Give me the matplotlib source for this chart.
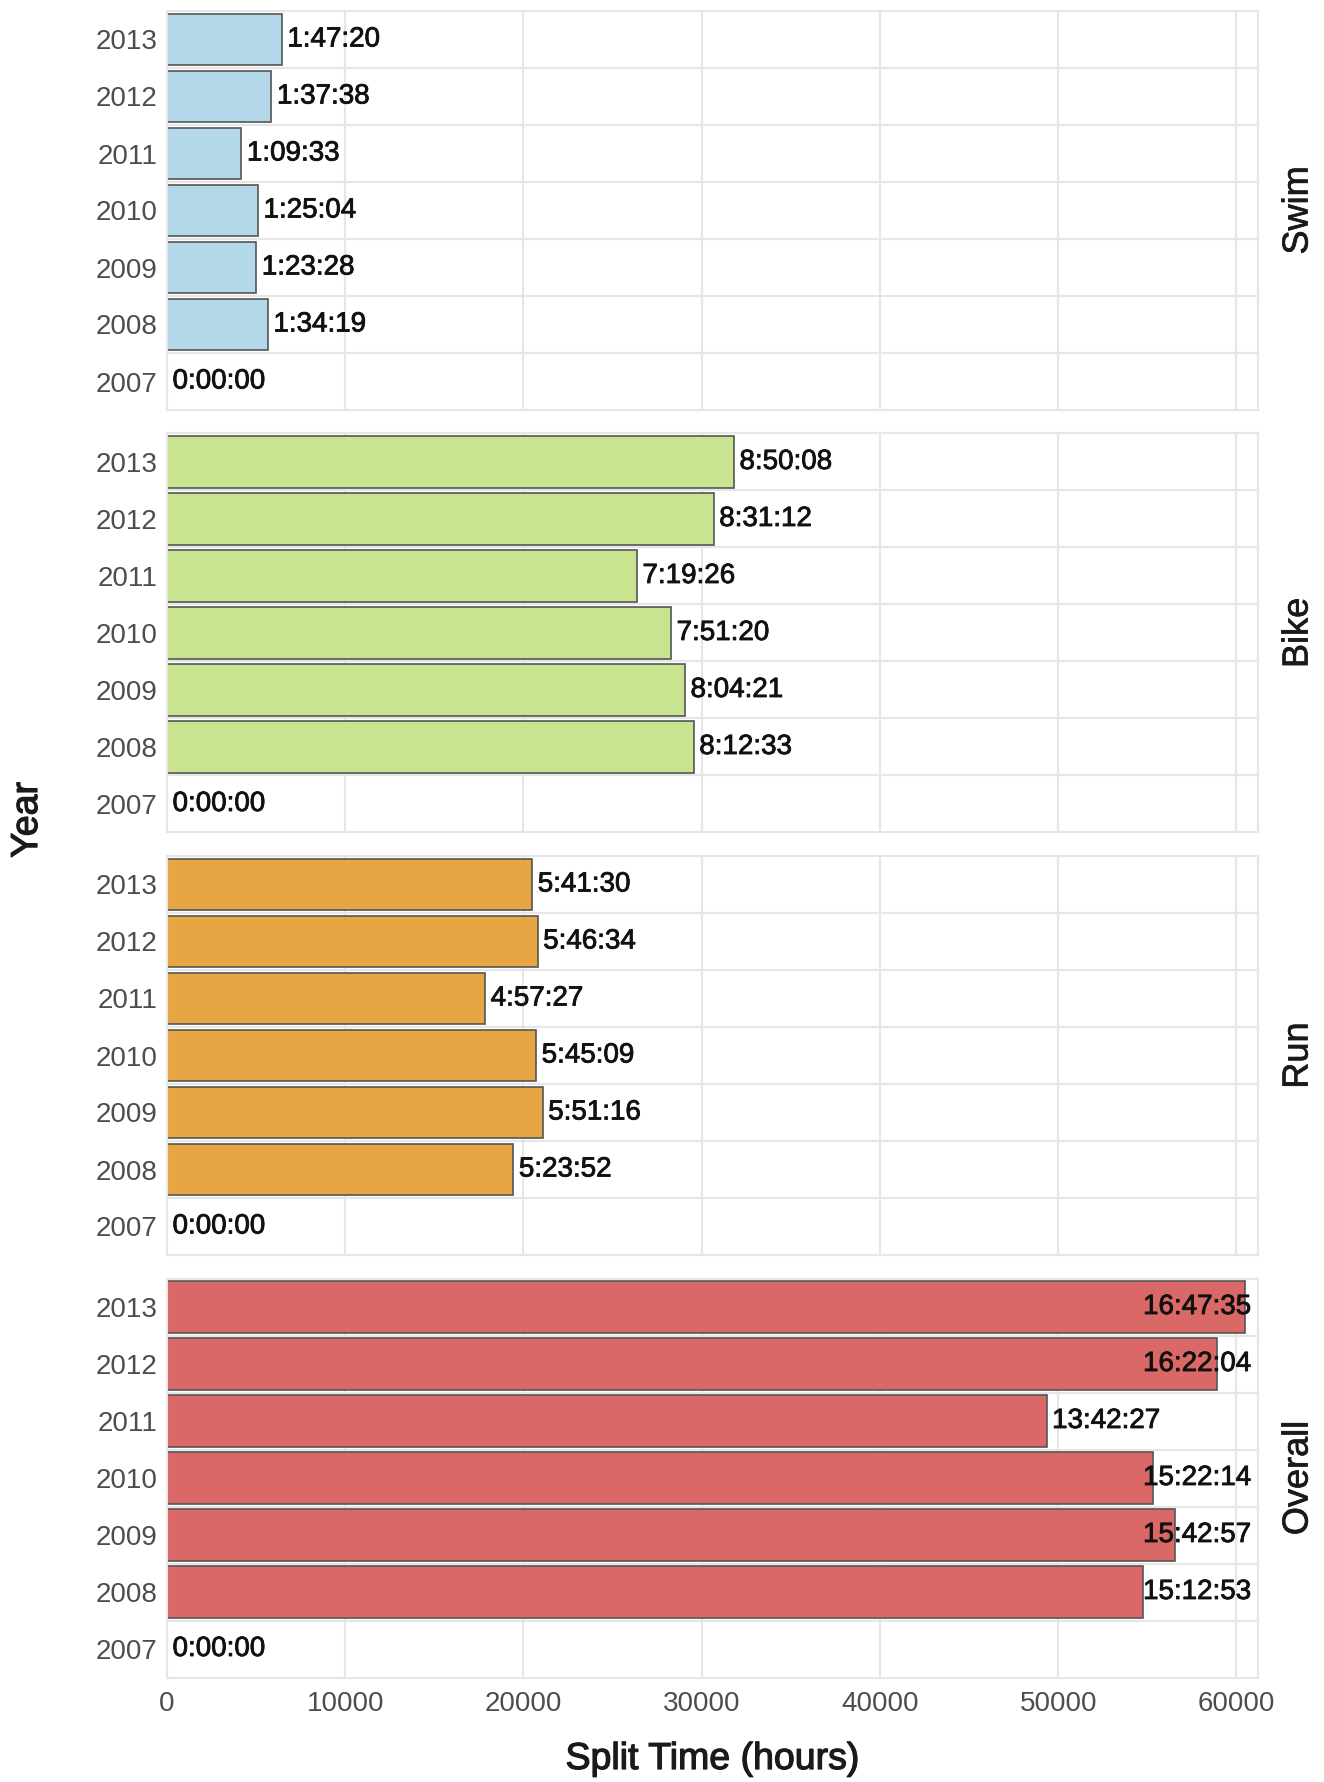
import matplotlib
matplotlib.use("Agg")
import matplotlib.pyplot as plt
import matplotlib.patheffects as pe
import numpy as np

plt.rcParams['font.family'] = ['Liberation Sans', 'DejaVu Sans']

years = ["2007", "2008", "2009", "2010", "2011", "2012", "2013"]
facets = ["Swim", "Bike", "Run", "Overall"]
swim = ["0:00:00", "1:34:19", "1:23:28", "1:25:04", "1:09:33", "1:37:38", "1:47:20"]
bike = ["0:00:00", "8:12:33", "8:04:21", "7:51:20", "7:19:26", "8:31:12", "8:50:08"]
run = ["0:00:00", "5:23:52", "5:51:16", "5:45:09", "4:57:27", "5:46:34", "5:41:30"]
overall = ["0:00:00", "15:12:53", "15:42:57", "15:22:14", "13:42:27", "16:22:04", "16:47:35"]
colors = ["#b3d8ea", "#c9e490", "#e8a543", "#d96866"]
xticks = [0, 10000, 20000, 30000, 40000, 50000, 60000]

series = [swim, bike, run, overall]


def to_sec(s):
    h, m, sec = s.split(":")
    return int(h) * 3600 + int(m) * 60 + int(sec)


W, H = 1324, 1782
fig = plt.figure(figsize=(W / 100, H / 100), dpi=100)

left = 167 / W
right = 1258 / W
top0 = 11
ph = 399
gap = 23.5
label_cap = 54450
grid_c = "#e6e6e6"
val_fx = [pe.withStroke(linewidth=0.6, foreground="#111111")]
title_fx = [pe.withStroke(linewidth=0.9, foreground="#1a1a1a")]

ypos = np.arange(len(years))
for i, (name, vals, col) in enumerate(zip(facets, series, colors)):
    top = top0 + i * (ph + gap)
    ax = fig.add_axes([left, 1 - (top + ph) / H, right - left, ph / H])
    secs = [to_sec(v) for v in vals]
    ax.set_xlim(0, 61212)
    ax.set_ylim(-0.5, len(years) - 0.5)
    ax.set_axisbelow(True)
    ax.set_xticks(xticks)
    ax.set_yticks(ypos)
    ax.set_yticks(ypos[:-1] + 0.5, minor=True)
    ax.set_yticklabels(years)
    ax.grid(True, axis="x", which="major", color=grid_c, lw=1.5)
    ax.grid(True, axis="y", which="minor", color=grid_c, lw=1.5)
    ax.tick_params(axis="both", which="both", length=0)
    ax.tick_params(axis="y", labelsize=20, labelcolor="#4d4d4d", pad=7)
    ax.tick_params(axis="x", labelsize=20, labelcolor="#4d4d4d", pad=10)
    if i < len(facets) - 1:
        ax.set_xticklabels([])
    for sp in ax.spines.values():
        sp.set_color(grid_c)
        sp.set_linewidth(1.5)
    ax.barh(ypos, secs, height=0.9, color=col, edgecolor="#555555", linewidth=1.2)
    for y, s, lab in zip(ypos, secs, vals):
        ax.annotate(lab, xy=(min(s, label_cap), y), xytext=(4, 0),
                    textcoords="offset points", ha="left", va="center",
                    fontsize=20, color="#111111", path_effects=val_fx)
    fig.text(1298 / W, 1 - (top + ph / 2) / H, name, rotation=90,
             ha="center", va="center", fontsize=26, color="#1a1a1a",
             path_effects=[pe.withStroke(linewidth=0.5, foreground="#1a1a1a")])

fig.text(27 / W, 1 - 820 / H, "Year", rotation=90, ha="center", va="center",
         fontsize=27, color="#1a1a1a", path_effects=title_fx)
fig.text((left + right) / 2, 1 - 1759 / H, "Split Time (hours)", ha="center",
         va="center", fontsize=27, color="#1a1a1a", path_effects=title_fx)

fig.savefig("out.png", dpi=100)
